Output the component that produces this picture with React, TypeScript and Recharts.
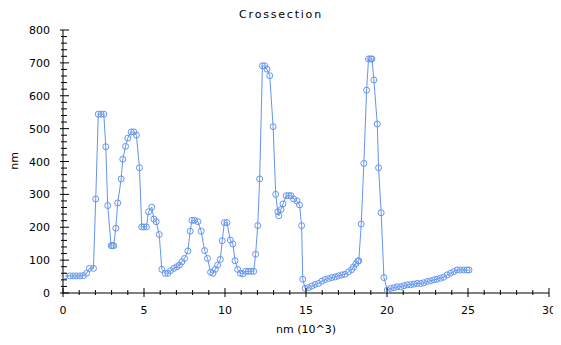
import React from "react";
import { LineChart, Line, XAxis, YAxis } from "recharts";

const xValues = [
  0.12, 0.43, 0.64, 0.84, 1.05, 1.26, 1.46, 1.63, 1.88, 2.02, 2.18, 2.35, 2.52, 2.64, 2.76, 2.97, 3.05, 3.13,
  3.26, 3.38, 3.59, 3.69, 3.86, 4.0, 4.21, 4.37, 4.53, 4.72, 4.86, 4.99, 5.15, 5.28, 5.48, 5.61, 5.75, 5.94,
  6.1, 6.31, 6.47, 6.64, 6.84, 7.03, 7.19, 7.34, 7.5, 7.71, 7.85, 7.96, 8.12, 8.33, 8.53, 8.74, 8.92, 9.11,
  9.26, 9.4, 9.54, 9.71, 9.83, 9.96, 10.12, 10.33, 10.49, 10.62, 10.78, 10.95, 11.11, 11.27, 11.44, 11.6,
  11.77, 11.89, 12.02, 12.14, 12.31, 12.45, 12.59, 12.76, 12.97, 13.13, 13.26, 13.32, 13.46, 13.58, 13.78,
  13.94, 14.07, 14.24, 14.44, 14.6, 14.73, 14.8, 14.95, 15.15, 15.36, 15.56, 15.77, 15.98, 16.18, 16.39,
  16.59, 16.8, 17.0, 17.21, 17.41, 17.62, 17.82, 17.93, 18.08, 18.2, 18.26, 18.41, 18.57, 18.74, 18.86,
  18.99, 19.07, 19.19, 19.4, 19.48, 19.64, 19.81, 20.02, 20.22, 20.43, 20.63, 20.84, 21.04, 21.25, 21.45,
  21.66, 21.86, 22.07, 22.27, 22.48, 22.68, 22.89, 23.09, 23.3, 23.5, 23.71, 23.92, 24.12, 24.33, 24.53,
  24.74, 24.94, 25.06,
];

const nmValues = [
  52, 52, 52, 52, 52, 53, 60, 75, 75, 286, 544, 544, 544, 445, 266, 144, 144, 144,
  197, 274, 347, 407, 446, 471, 490, 490, 480, 381, 201, 201, 201, 247, 261, 225, 217, 178,
  72, 60, 60, 68, 75, 80, 85, 95, 105, 128, 188, 221, 221, 217, 188, 129, 105, 63,
  60, 72, 85, 102, 159, 214, 214, 161, 149, 98, 72, 60, 58, 66, 66, 66,
  66, 118, 205, 347, 691, 691, 681, 661, 506, 300, 247, 235, 254, 271, 296,
  296, 296, 286, 280, 268, 205, 42, 14, 16, 21, 26, 29, 36, 41, 44,
  47, 49, 52, 55, 57, 64, 71, 79, 89, 97, 98, 210, 394, 617, 712,
  712, 712, 648, 514, 381, 244, 47, 9, 14, 16, 19, 19, 22, 25, 25,
  27, 29, 29, 31, 35, 37, 40, 42, 45, 48, 55, 60, 65, 70, 70,
  70, 70, 70,
];

const xMajorTicks = [0, 5, 10, 15, 20, 25, 30];
const yMajorTicks = [0, 100, 200, 300, 400, 500, 600, 700, 800];
const xMinorStep = 1;
const yMinorStep = 20;

const title = "Crossection";
const xLabel = "nm (10^3)";
const yLabel = "nm";

const data = xValues.map((x, i) => ({ x, y: nmValues[i] }));

const buildTicks = (max: number, step: number) => {
  const out: number[] = [];
  for (let v = 0; v <= max + 1e-9; v += step) out.push(Math.round(v * 1000) / 1000);
  return out;
};
const xTicks = buildTicks(30, xMinorStep);
const yTicks = buildTicks(800, yMinorStep);

const FONT = "'DejaVu Sans', sans-serif";
const LINE_COLOR = "#6495ED";

const BottomTick = (props: any) => {
  const { x, y, payload } = props;
  const major = xMajorTicks.includes(payload.value);
  return (
    <g>
      <line x1={x} x2={x} y1={y - (major ? 5 : 3)} y2={y + (major ? 4 : 2)} stroke="#000" />
      {major && (
        <text x={x} y={y + 21} textAnchor="middle" fontSize={11} fontFamily={FONT} fill="#000">
          {payload.value}
        </text>
      )}
    </g>
  );
};

const LeftTick = (props: any) => {
  const { x, y, payload } = props;
  const major = yMajorTicks.includes(payload.value);
  return (
    <g>
      <line x1={x - (major ? 3 : 2)} x2={x + (major ? 6 : 4)} y1={y} y2={y} stroke="#000" />
      {major && (
        <text x={x - 13} y={y + 4} textAnchor="end" fontSize={11} fontFamily={FONT} fill="#000">
          {payload.value}
        </text>
      )}
    </g>
  );
};

const TopTick = (props: any) => {
  const { x, y, payload } = props;
  const major = xMajorTicks.includes(payload.value);
  return <line x1={x} x2={x} y1={y} y2={y + (major ? 6 : 4)} stroke="#000" />;
};

const RightTick = (props: any) => {
  const { x, y, payload } = props;
  const major = yMajorTicks.includes(payload.value);
  return <line x1={x - (major ? 6 : 4)} x2={x} y1={y} y2={y} stroke="#000" />;
};

export default function App() {
  return (
    <div style={{ width: 553, height: 337 }}>
      <LineChart width={553} height={337} data={data} margin={{ top: 22, right: 12, bottom: 22, left: 0 }}>
        <XAxis
          dataKey="x"
          type="number"
          domain={[0, 30]}
          ticks={xTicks}
          interval={0}
          tickSize={0}
          tickMargin={0}
          tick={<BottomTick />}
          height={30}
          axisLine={{ stroke: "#000" }}
          allowDataOverflow
        />
        <XAxis
          xAxisId="top"
          orientation="top"
          dataKey="x"
          type="number"
          domain={[0, 30]}
          ticks={xTicks}
          interval={0}
          tickSize={0}
          tickMargin={0}
          tick={<TopTick />}
          height={0}
          axisLine={{ stroke: "#000" }}
          allowDataOverflow
        />
        <YAxis
          type="number"
          domain={[0, 800]}
          ticks={yTicks}
          interval={0}
          tickSize={0}
          tickMargin={0}
          tick={<LeftTick />}
          width={55}
          axisLine={{ stroke: "#000" }}
          allowDataOverflow
        />
        <YAxis
          yAxisId="right"
          orientation="right"
          type="number"
          domain={[0, 800]}
          ticks={yTicks}
          interval={0}
          tickSize={0}
          tickMargin={0}
          tick={<RightTick />}
          width={0}
          axisLine={{ stroke: "#000" }}
          allowDataOverflow
        />
        <Line
          type="linear"
          dataKey="y"
          stroke={LINE_COLOR}
          strokeWidth={1}
          dot={{ r: 3, stroke: LINE_COLOR, fill: "none", strokeWidth: 1 }}
          isAnimationActive={false}
        />
        <text x={273} y={10} textAnchor="middle" fontSize={11} fontFamily={FONT} letterSpacing={1.8} fill="#000">
          {title}
        </text>
        <text x={298} y={325} textAnchor="middle" fontSize={11} fontFamily={FONT} fill="#000">
          {xLabel}
        </text>
        <text
          x={10}
          y={153}
          textAnchor="middle"
          fontSize={11}
          fontFamily={FONT}
          fill="#000"
          transform="rotate(-90 10 153)"
        >
          {yLabel}
        </text>
      </LineChart>
    </div>
  );
}
